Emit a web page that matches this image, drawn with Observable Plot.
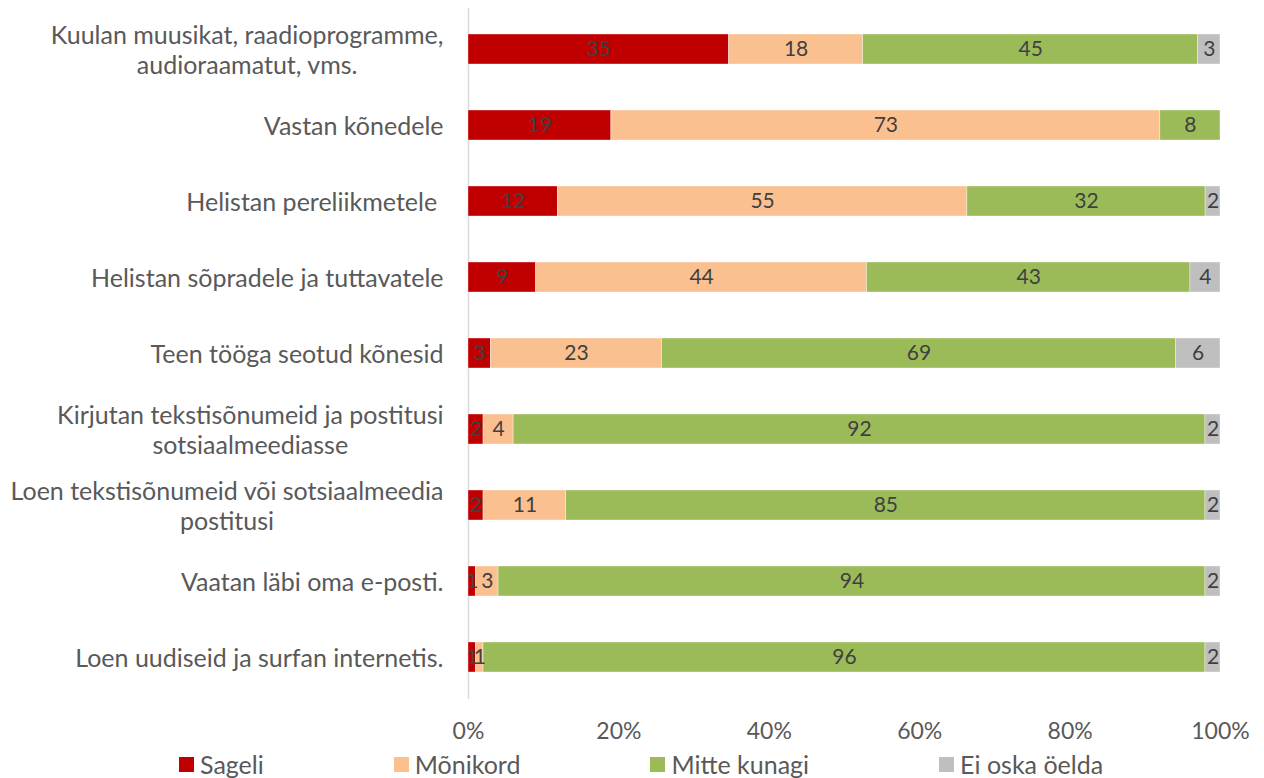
<!DOCTYPE html>
<html>
<head>
<meta charset="utf-8">
<script src="https://cdn.jsdelivr.net/npm/d3@7"></script>
<script src="https://cdn.jsdelivr.net/npm/@observablehq/plot@0.6"></script>
<style>
  body { margin: 0; background: #fff; font-family: Lato, "Noto Sans", sans-serif; }
  #legend { display: flex; gap: 130px; padding-left: 179px; height: 28px; align-items: center; color: #595959; font-size: 25px; }
  #legend .item { display: flex; align-items: center; gap: 6px; }
  #legend .sw { width: 15px; height: 15px; display: inline-block; }
</style>
</head>
<body>
<div id="chart"></div>
<div id="legend"></div>
<script>
const categories = [
  "Kuulan muusikat, raadioprogramme,\naudioraamatut, vms.",
  "Vastan kõnedele",
  "Helistan pereliikmetele ",
  "Helistan sõpradele ja tuttavatele",
  "Teen tööga seotud kõnesid",
  "Kirjutan tekstisõnumeid ja postitusi\nsotsiaalmeediasse",
  "Loen tekstisõnumeid või sotsiaalmeedia\npostitusi",
  "Vaatan läbi oma e-posti.",
  "Loen uudiseid ja surfan internetis."
];
const series = ["Sageli", "Mõnikord", "Mitte kunagi", "Ei oska öelda"];
const colors = ["#C00000", "#FAC090", "#9BBB59", "#BFBFBF"];
const sageli      = [35, 19, 12,  9,  3,  2,  2,  1,  1];
const monikord    = [18, 73, 55, 44, 23,  4, 11,  3,  1];
const mitteKunagi = [45,  8, 32, 43, 69, 92, 85, 94, 96];
const eiOska      = [ 3,  0,  2,  4,  6,  2,  2,  2,  2];
const xTicks = [0, 0.2, 0.4, 0.6, 0.8, 1];

const seriesValues = [sageli, monikord, mitteKunagi, eiOska];
const data = [];
categories.forEach((cat, i) => {
  series.forEach((s, j) => data.push({cat, series: s, value: seriesValues[j][i]}));
});
const labelData = data.filter(d => d.value > 0);

const chart = Plot.plot({
  width: 1264,
  height: 750,
  marginLeft: 468,
  marginRight: 44,
  marginTop: 8,
  marginBottom: 51,
  style: {fontFamily: "Lato, 'Noto Sans', sans-serif", background: "white"},
  x: {domain: [0, 1], ticks: xTicks, tickFormat: d3.format(".0%"), label: null},
  y: {domain: categories, paddingInner: 0.6, paddingOuter: 0.3, label: null},
  color: {domain: series, range: colors},
  marks: [
    Plot.ruleX([0], {stroke: "#D9D9D9", strokeWidth: 1.5}),
    Plot.barX(data, Plot.stackX({x: "value", y: "cat", fill: "series", order: series, offset: "normalize", stroke: "white", strokeWidth: 0.6, strokeOpacity: 0.6})),
    Plot.text(labelData, Plot.stackX({x: "value", y: "cat", z: "series", text: d => String(d.value), order: series, offset: "normalize", fill: "#404040", fontSize: 21})),
    Plot.axisX({ticks: xTicks, tickFormat: d3.format(".0%"), tickSize: 0, tickPadding: 23, fontSize: 23, color: "#595959", label: null}),
    Plot.axisY({tickSize: 0, tickPadding: 25, fontSize: 25, color: "#595959", label: null, lineHeight: 1.2})
  ]
});
document.getElementById("chart").appendChild(chart);

// centre multi-line category labels on each other (right-aligned block)
chart.querySelectorAll("g[aria-label='y-axis tick label'] text").forEach(t => {
  const spans = t.querySelectorAll("tspan");
  if (spans.length > 1) {
    const w = t.getBBox().width;
    t.setAttribute("text-anchor", "middle");
    spans.forEach(s => s.setAttribute("x", -w / 2));
  }
});

const legend = document.getElementById("legend");
series.forEach((s, j) => {
  const item = document.createElement("div");
  item.className = "item";
  item.innerHTML = `<span class="sw" style="background:${colors[j]}"></span><span>${s}</span>`;
  legend.appendChild(item);
});
</script>
</body>
</html>
